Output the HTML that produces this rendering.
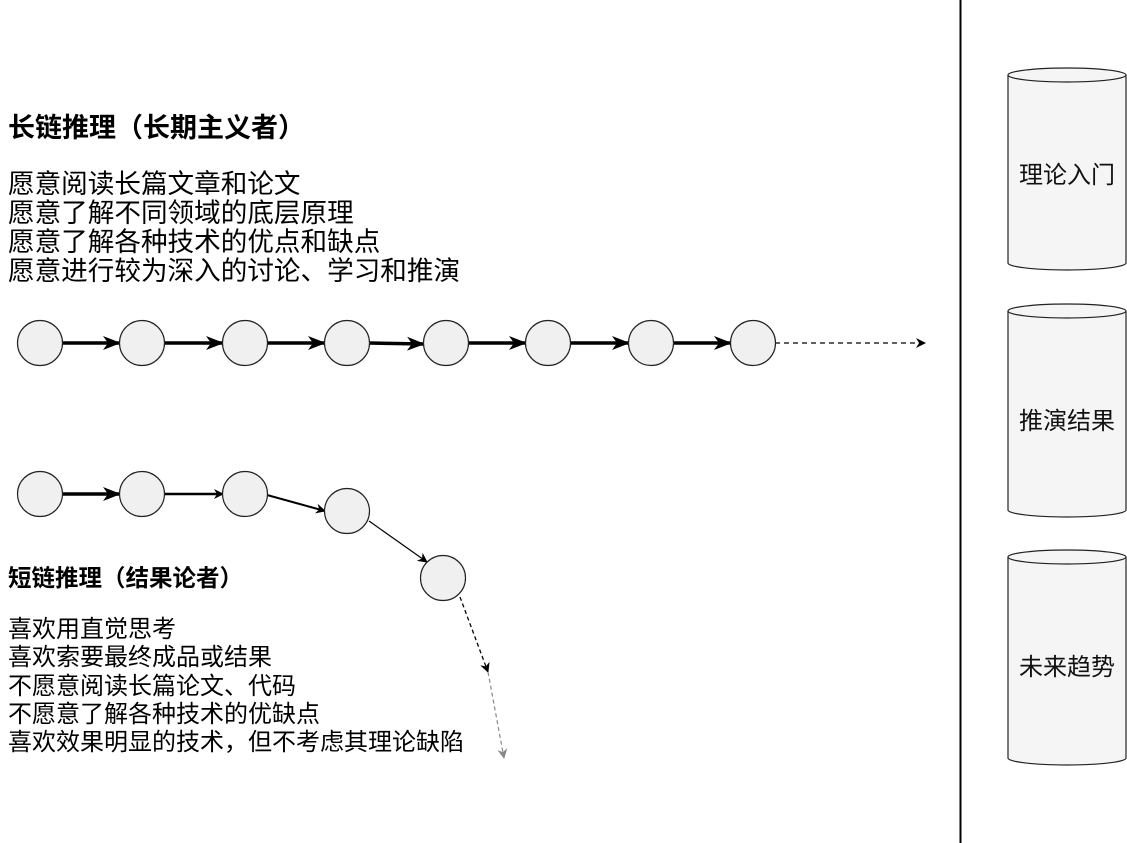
<!DOCTYPE html>
<html><head><meta charset="utf-8"><style>
body{margin:0;width:1127px;height:843px;background:#fff;overflow:hidden;font-family:"Liberation Sans","WenQuanYi Zen Hei","Noto Sans CJK SC",sans-serif;position:relative}
.t{position:absolute;left:8px;color:#000;white-space:nowrap}
</style></head><body>
<div class="t" style="top:114px;font-size:27px;line-height:29px;font-weight:bold">长链推理（长期主义者）</div>
<div class="t" style="top:170px;font-size:26.6px;line-height:29px">愿意阅读长篇文章和论文<br>愿意了解不同领域的底层原理<br>愿意了解各种技术的优点和缺点<br>愿意进行较为深入的讨论、学习和推演</div>
<div class="t" style="top:564px;font-size:23.5px;line-height:28px;font-weight:bold">短链推理（结果论者）</div>
<div class="t" style="top:616px;font-size:24px;line-height:28.3px">喜欢用直觉思考<br>喜欢索要最终成品或结果<br>不愿意阅读长篇论文、代码<br>不愿意了解各种技术的优缺点<br>喜欢效果明显的技术，但不考虑其理论缺陷</div>
<svg width="1127" height="843" style="position:absolute;left:0;top:0">
<defs>
<marker id="a" markerWidth="10" markerHeight="10" refX="9" refY="5" orient="auto" markerUnits="userSpaceOnUse"><path d="M0,0 L10,5 L0,10 L3,5z" fill="#000"/></marker>
<marker id="b" markerWidth="18" markerHeight="14" refX="17" refY="7" orient="auto" markerUnits="userSpaceOnUse"><path d="M0,0 L18,7 L0,14 L5,7z" fill="#000"/></marker>
<marker id="g" markerWidth="10" markerHeight="10" refX="9" refY="5" orient="auto" markerUnits="userSpaceOnUse"><path d="M0,0 L10,5 L0,10 L3,5z" fill="#888"/></marker>
</defs>
<line x1="960.5" y1="0" x2="960.5" y2="843" stroke="#000" stroke-width="2"/>
<g stroke="#000" stroke-width="3.5" marker-end="url(#b)">
<line x1="62" y1="343" x2="120" y2="343"/><line x1="164" y1="343" x2="223" y2="343"/><line x1="267" y1="343" x2="325" y2="343"/><line x1="369" y1="343" x2="424" y2="344"/><line x1="468" y1="343" x2="526" y2="343"/><line x1="570" y1="343" x2="629" y2="343"/><line x1="673" y1="343" x2="731" y2="343"/>
<line x1="62" y1="494" x2="120" y2="494"/>
</g>
<line x1="164" y1="494" x2="223" y2="494" stroke="#000" stroke-width="2.5" marker-end="url(#a)"/>
<line x1="267" y1="495" x2="325" y2="511" stroke="#000" stroke-width="2" marker-end="url(#a)"/>
<line x1="369" y1="521" x2="427" y2="562" stroke="#000" stroke-width="1.2" marker-end="url(#a)"/>
<line x1="775" y1="343" x2="925" y2="343" stroke="#000" stroke-width="1.3" stroke-dasharray="5,4" marker-end="url(#a)"/>
<line x1="460" y1="597" x2="488" y2="672" stroke="#000" stroke-width="1.3" stroke-dasharray="4,3" marker-end="url(#a)"/>
<line x1="488" y1="672" x2="504" y2="758" stroke="#888" stroke-width="1.2" stroke-dasharray="4,3" marker-end="url(#g)"/>
<g fill="#f0f0f0" stroke="#222" stroke-width="1.2">
<circle cx="40" cy="343" r="22.5"/><circle cx="142" cy="343" r="22.5"/><circle cx="245" cy="343" r="22.5"/><circle cx="347" cy="343" r="22.5"/><circle cx="446" cy="343" r="22.5"/><circle cx="548" cy="343" r="22.5"/><circle cx="651" cy="343" r="22.5"/><circle cx="753" cy="343" r="22.5"/>
<circle cx="40" cy="494" r="22.5"/><circle cx="142" cy="494" r="22.5"/><circle cx="245" cy="494" r="22.5"/><circle cx="347" cy="511" r="22.5"/><circle cx="443" cy="578" r="22.5"/>
</g>
<g fill="#f5f5f5" stroke="#222" stroke-width="1.2">
<path d="M1008,75 L1008,263 A59,7 0 0 0 1126,263 L1126,75"/><ellipse cx="1067" cy="75" rx="59" ry="7"/>
<path d="M1008,311 L1008,510 A59,7 0 0 0 1126,510 L1126,311"/><ellipse cx="1067" cy="311" rx="59" ry="7"/>
<path d="M1008,557 L1008,758 A59,7 0 0 0 1126,758 L1126,557"/><ellipse cx="1067" cy="557" rx="59" ry="7"/>
</g>
<g font-size="24" text-anchor="middle" fill="#111" font-family="Liberation Sans, WenQuanYi Zen Hei, Noto Sans CJK SC, sans-serif">
<text x="1067" y="183">理论入门</text><text x="1067" y="429">推演结果</text><text x="1067" y="675">未来趋势</text>
</g>
</svg>
</body></html>
